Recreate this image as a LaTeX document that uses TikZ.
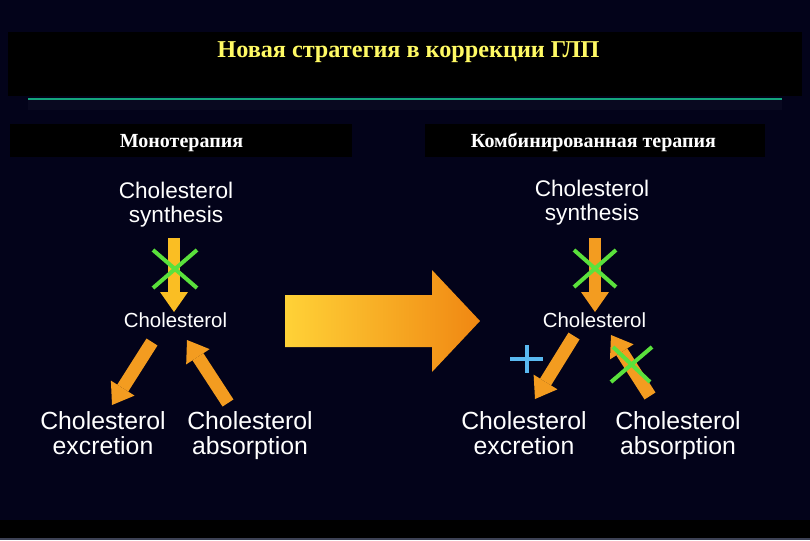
\documentclass[tikz,border=0pt]{standalone}
\usepackage{fontspec}
\setmainfont{Liberation Serif}
\newfontfamily\diagfont{Liberation Sans}
\usetikzlibrary{arrows.meta}
\definecolor{bg}{RGB}{3,3,26}
\definecolor{titleyellow}{RGB}{255,250,100}
\definecolor{rulegreen}{RGB}{20,165,125}
\definecolor{shadowstrip}{RGB}{9,9,32}
\definecolor{bottomline}{RGB}{60,65,85}
\definecolor{arryellow}{RGB}{250,190,35}
\definecolor{arrorange}{RGB}{243,156,32}
\definecolor{bigL}{RGB}{255,210,55}
\definecolor{bigR}{RGB}{240,135,18}
\definecolor{xgreen}{RGB}{90,225,60}
\definecolor{plusblue}{RGB}{90,185,240}
\begin{document}
\begin{tikzpicture}[x=1pt,y=-1pt,
  dtxt/.style={text=white, inner sep=0pt, align=center},
  ttl/.style={inner sep=0pt, font=\bfseries},
  fatarr/.style={line width=13pt, -{Triangle[length=20pt,width=28pt,line width=0pt]}},
  xmark/.style={draw=xgreen, line width=4pt},
  plusmark/.style={draw=plusblue, line width=4pt}]
\useasboundingbox (0,0) rectangle (810,540);
\fill[bg] (0,0) rectangle (810,540);
% title band
\fill[black] (8,32) rectangle (802,96);
\fill[shadowstrip] (28,100) rectangle (782,110);
\draw[rulegreen, line width=2.2pt] (28,99) -- (782,99);
\node[ttl, text=titleyellow, anchor=base, font=\bfseries\fontsize{24.2}{26}\selectfont] (title) at (408.5,58) {Новая стратегия в коррекции ГЛП};
% subtitle boxes
\fill[black] (10,124) rectangle (352,157);
\fill[black] (425,124) rectangle (765,157);
\node[ttl, text=white, anchor=base, font=\bfseries\fontsize{20}{22}\selectfont] (mono) at (181.5,148) {Монотерапия};
\node[ttl, text=white, anchor=base, font=\bfseries\fontsize{20}{22}\selectfont] (comb) at (593.5,148) {Комбинированная терапия};
% bottom band
\fill[black] (0,520) rectangle (810,538);
\fill[bottomline] (0,538) rectangle (810,540);
% left diagram texts
\node[dtxt, anchor=north, font=\diagfont\fontsize{22.6}{24}\selectfont] (synL) at (176,182) {Cholesterol\\synthesis};
\node[dtxt, anchor=base, font=\diagfont\fontsize{20.4}{22}\selectfont] (cholL) at (175.5,327) {Cholesterol};
\node[dtxt, anchor=north, font=\diagfont\fontsize{24.8}{25.5}\selectfont] (excL) at (103,411) {Cholesterol\\excretion};
\node[dtxt, anchor=north, font=\diagfont\fontsize{24.8}{25.5}\selectfont] (absL) at (250,411) {Cholesterol\\absorption};
% right diagram texts
\node[dtxt, anchor=north, font=\diagfont\fontsize{22.6}{24}\selectfont] (synR) at (592,180) {Cholesterol\\synthesis};
\node[dtxt, anchor=base, font=\diagfont\fontsize{20.4}{22}\selectfont] (cholR) at (594.5,327) {Cholesterol};
\node[dtxt, anchor=north, font=\diagfont\fontsize{24.8}{25.5}\selectfont] (excR) at (524,411) {Cholesterol\\excretion};
\node[dtxt, anchor=north, font=\diagfont\fontsize{24.8}{25.5}\selectfont] (absR) at (678,411) {Cholesterol\\absorption};
% arrow end points
\coordinate (vLs) at (174,238);  \coordinate (vLe) at (174,312);
\coordinate (eLs) at (152,342);  \coordinate (eLe) at (112,405);
\coordinate (aLs) at (228,403);  \coordinate (aLe) at (187,340);
\coordinate (vRs) at (595,238);  \coordinate (vRe) at (595,312);
\coordinate (eRs) at (574,336);  \coordinate (eRe) at (535,399);
\coordinate (aRs) at (650,396);  \coordinate (aRe) at (611,335);
% left arrows
\draw[fatarr, arryellow, line width=12pt] (vLs) -- (vLe);
\draw[fatarr, arrorange] (eLs) -- (eLe);
\draw[fatarr, arrorange] (aLs) -- (aLe);
\draw[xmark] (153,250) -- (197,288) (197,250) -- (153,288);
% big arrow
\shade[left color=bigL, right color=bigR] (285,295) -- (432,295) -- (432,270) -- (480,321) -- (432,372) -- (432,347) -- (285,347) -- cycle;
% right arrows
\draw[fatarr, arrorange, line width=12pt] (vRs) -- (vRe);
\draw[fatarr, arrorange] (eRs) -- (eRe);
\draw[fatarr, arrorange] (aRs) -- (aRe);
\draw[xmark] (574,250) -- (616,287) (616,250) -- (574,287);
\draw[xmark] (611,382) -- (652,347) (613,347) -- (650,382);
\draw[plusmark] (510,359) -- (543,359) (527,345) -- (527,373);
\end{tikzpicture}
\end{document}
